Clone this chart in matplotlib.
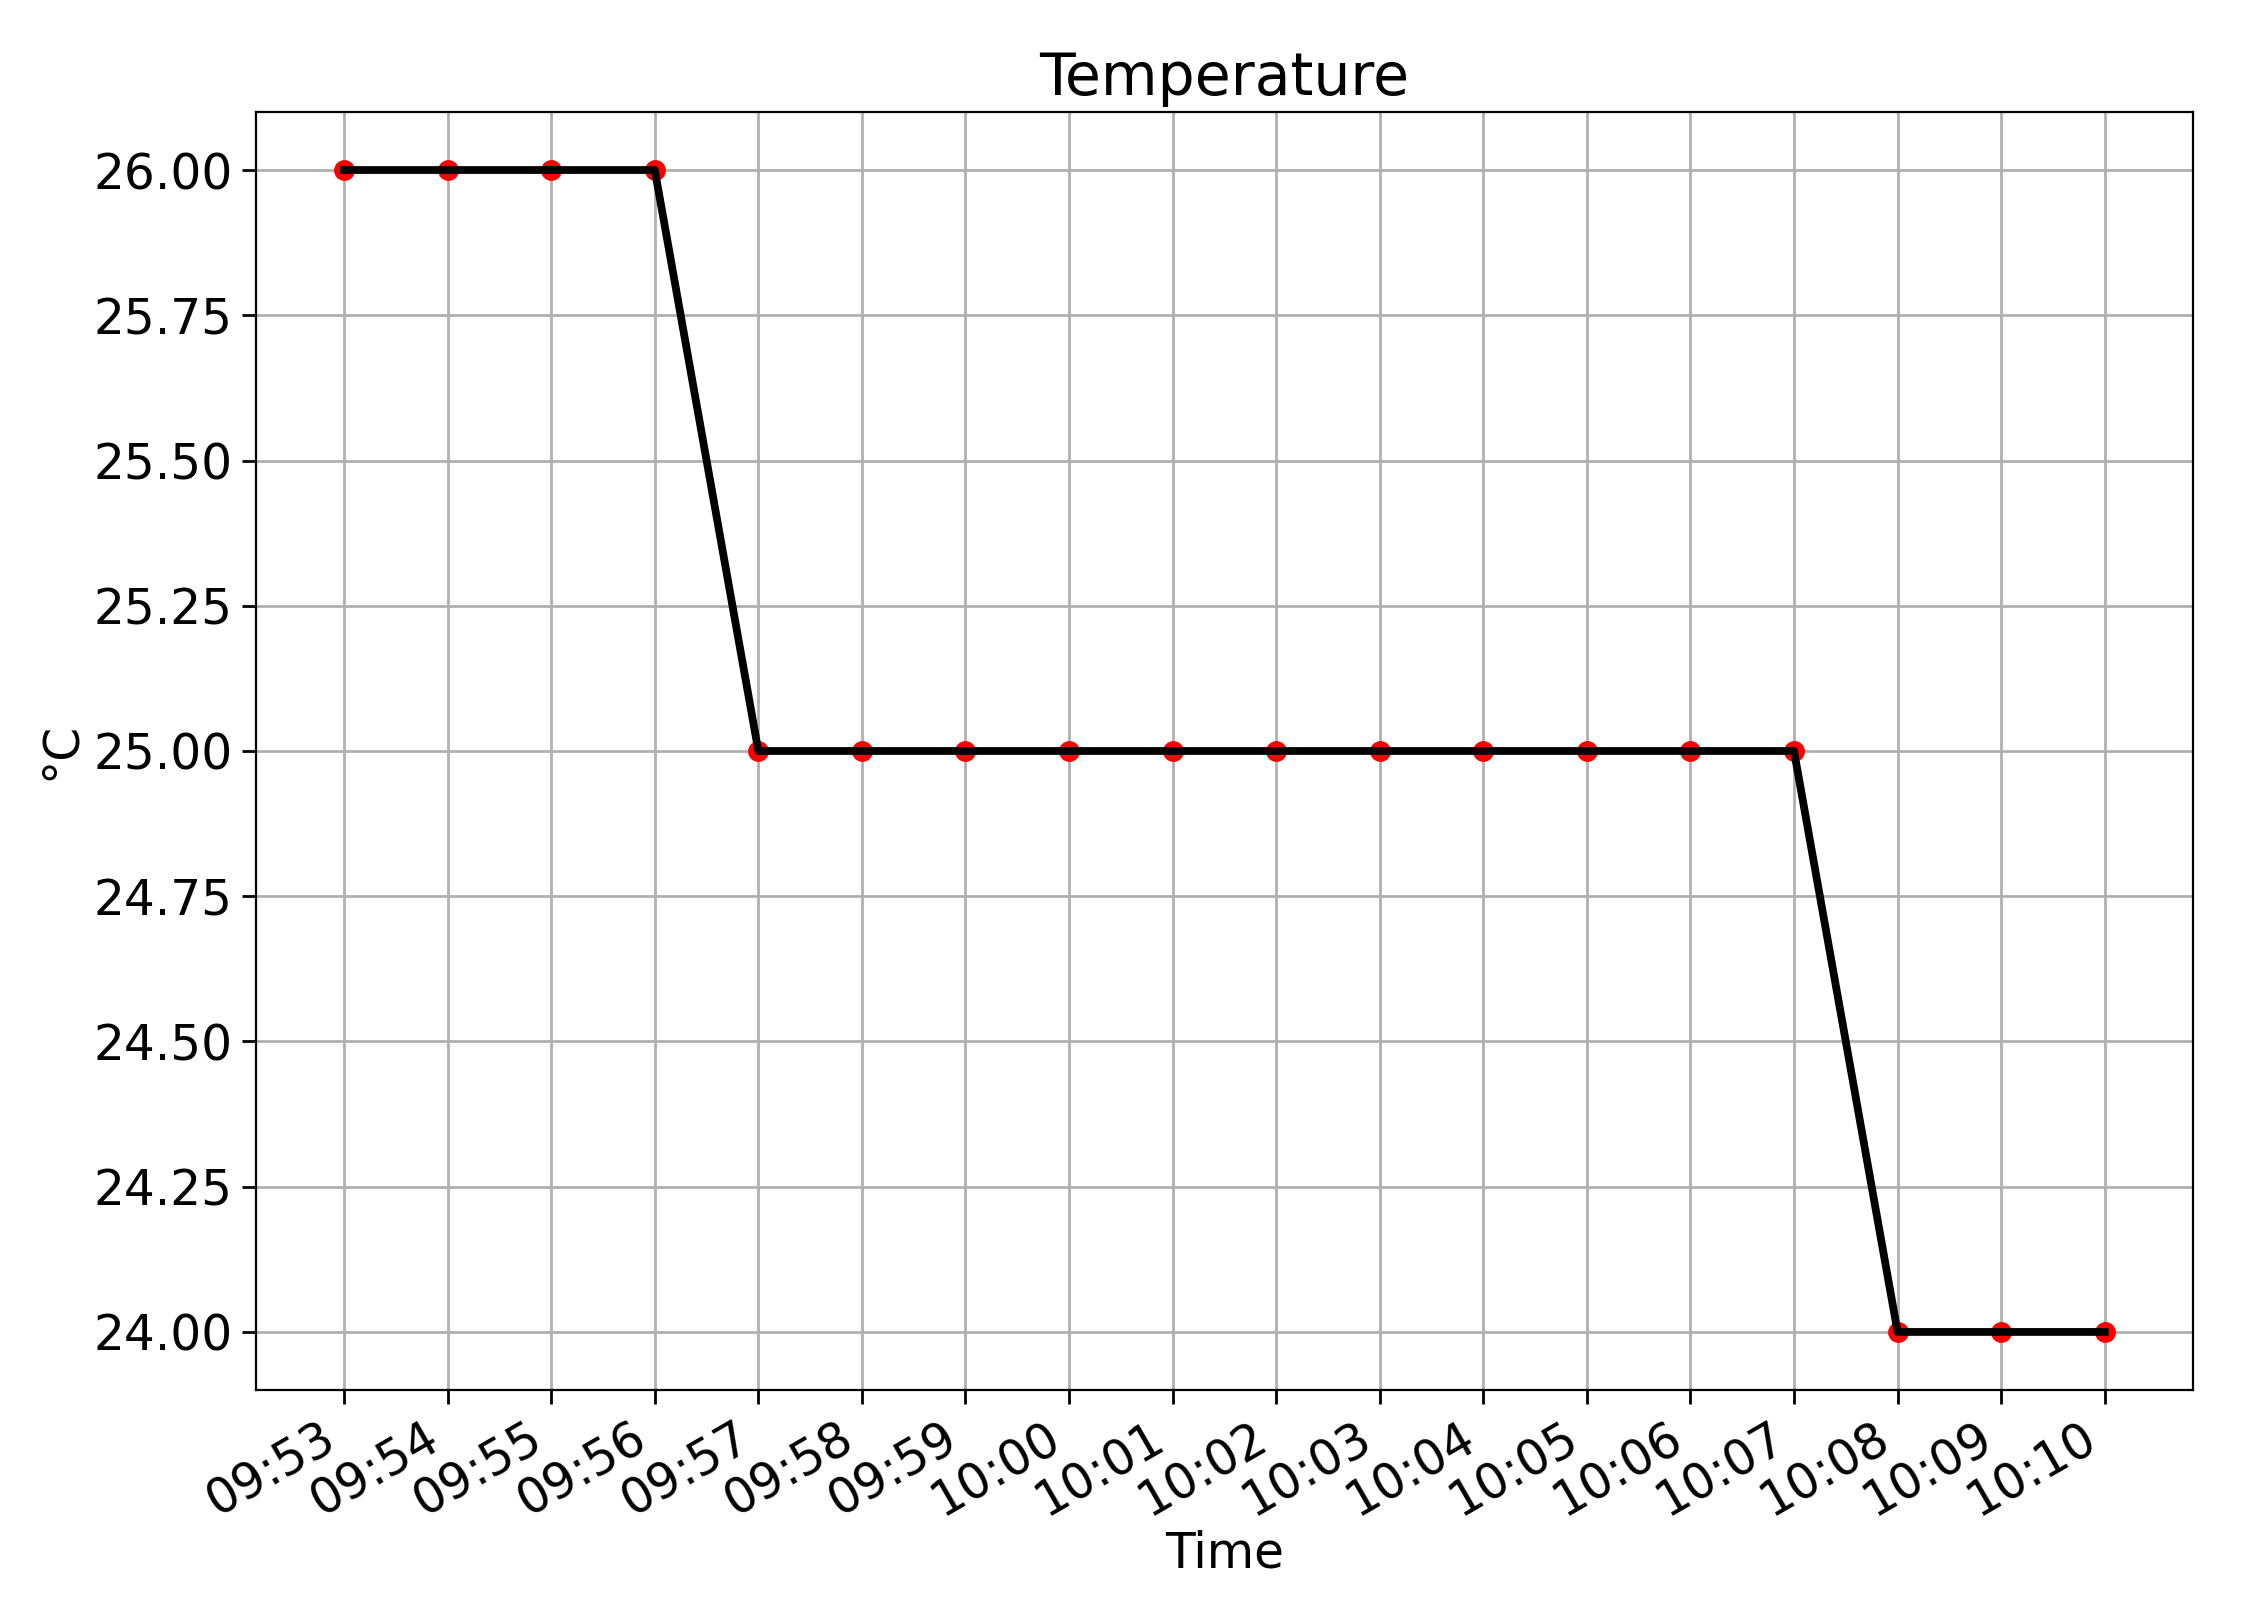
import matplotlib
matplotlib.use("Agg")
import matplotlib.pyplot as plt

times = ["09:53", "09:54", "09:55", "09:56", "09:57", "09:58", "09:59", "10:00",
         "10:01", "10:02", "10:03", "10:04", "10:05", "10:06", "10:07", "10:08",
         "10:09", "10:10"]
temps = [26, 26, 26, 26, 25, 25, 25, 25, 25, 25, 25, 25, 25, 25, 25, 24, 24, 24]
yticks = [24.0, 24.25, 24.5, 24.75, 25.0, 25.25, 25.5, 25.75, 26.0]

plt.rcParams['font.family'] = ['DejaVu Sans']
fig = plt.figure(figsize=(11.29, 8.11), dpi=200)
ax = fig.add_axes([0.1134, 0.143, 0.8577, 0.788])

x = list(range(len(times)))
ax.plot(x, temps, 'o', color='red', markersize=6.5, zorder=2)
ax.plot(x, temps, '-', color='black', linewidth=2.8, zorder=3)

ax.set_xticks(x)
ax.set_xticklabels(times, rotation=30, ha='right', fontsize=17.5)
ax.set_yticks(yticks)
ax.set_yticklabels([f"{v:.2f}" for v in yticks], fontsize=17.5)
ax.set_ylim(23.9, 26.1)
ax.grid(True, color='#b0b0b0', linewidth=1.0)
ax.set_axisbelow(True)
ax.tick_params(length=5, width=1)

ax.set_title("Temperature", fontsize=21)
ax.set_xlabel("Time", fontsize=17.5, labelpad=1.5)
ax.set_ylabel("°C", fontsize=17.5, labelpad=3)

fig.savefig("out.png", dpi=200)
